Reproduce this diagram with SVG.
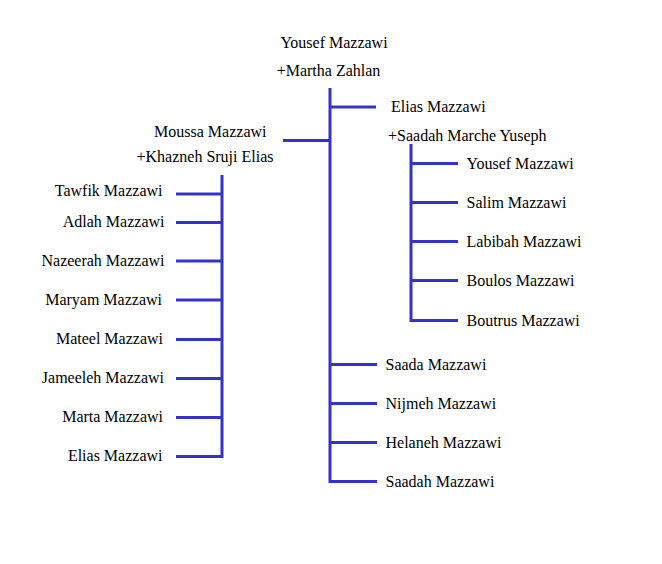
<svg xmlns="http://www.w3.org/2000/svg" width="662" height="564" viewBox="0 0 662 564">
<style>
text{font-family:"Liberation Serif","Times New Roman",serif;font-size:16px;fill:#000}
.e{text-anchor:end}
.m{text-anchor:middle}
.c{stroke:#3333cc;stroke-width:3;fill:none}
</style>
<rect width="662" height="564" fill="#fff"/>
<g id="connectors" class="c">
<path d="M330 88V481.5H377"/>
<path d="M330 107H376"/>
<path d="M283 140.5H330"/>
<path d="M330 364.5H377M330 403.5H377M330 442.5H377"/>
<path d="M222 175V456.5H176"/>
<path d="M176 194H222M176 222.5H222M176 261H222M176 300H222M176 339.5H222M176 378.5H222M176 417.5H222"/>
<path d="M411 144V320.5H458"/>
<path d="M411 163.5H458M411 202.5H458M411 241.5H458M411 280.5H458"/>
</g>
<g id="n-yousef"><text x="334" y="48" class="m">Yousef Mazzawi</text><text x="328.5" y="76" class="m">+Martha Zahlan</text></g>
<g id="n-moussa"><text x="266.5" y="137" class="e">Moussa Mazzawi</text><text x="273.5" y="161.5" class="e">+Khazneh Sruji Elias</text></g>
<g id="n-elias"><text x="391" y="112">Elias Mazzawi</text><text x="388" y="140.5">+Saadah Marche Yuseph</text></g>
<g id="n-tawfik"><text x="162.5" y="196" class="e">Tawfik Mazzawi</text></g>
<g id="n-adlah"><text x="164.5" y="227" class="e">Adlah Mazzawi</text></g>
<g id="n-nazeerah"><text x="164.5" y="266" class="e">Nazeerah Mazzawi</text></g>
<g id="n-maryam"><text x="162" y="305" class="e">Maryam Mazzawi</text></g>
<g id="n-mateel"><text x="163" y="344" class="e">Mateel Mazzawi</text></g>
<g id="n-jameeleh"><text x="164" y="383" class="e">Jameeleh Mazzawi</text></g>
<g id="n-marta"><text x="163" y="422" class="e">Marta Mazzawi</text></g>
<g id="n-elias2"><text x="162.5" y="461" class="e">Elias Mazzawi</text></g>
<g id="n-yousef2"><text x="466.5" y="169">Yousef Mazzawi</text></g>
<g id="n-salim"><text x="466.5" y="208">Salim Mazzawi</text></g>
<g id="n-labibah"><text x="466.5" y="247">Labibah Mazzawi</text></g>
<g id="n-boulos"><text x="466.5" y="286">Boulos Mazzawi</text></g>
<g id="n-boutrus"><text x="466.5" y="326">Boutrus Mazzawi</text></g>
<g id="n-saada"><text x="385.5" y="370">Saada Mazzawi</text></g>
<g id="n-nijmeh"><text x="385.5" y="409">Nijmeh Mazzawi</text></g>
<g id="n-helaneh"><text x="385.5" y="448">Helaneh Mazzawi</text></g>
<g id="n-saadah"><text x="385.5" y="487">Saadah Mazzawi</text></g>
</svg>
